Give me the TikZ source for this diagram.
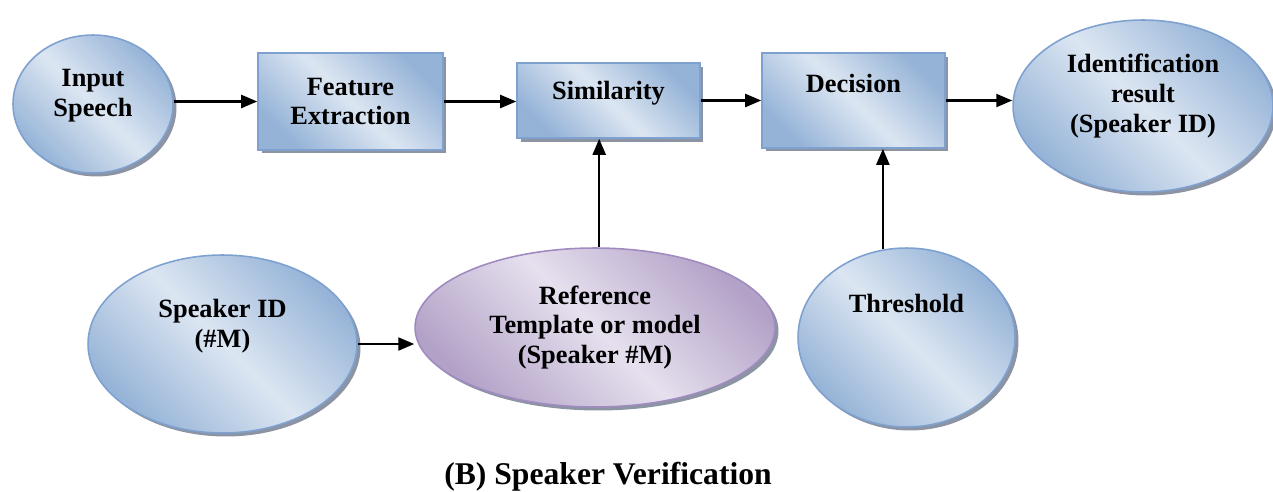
\documentclass[tikz,border=0pt]{standalone}
\usepackage{fontspec}
\setmainfont{Liberation Serif}
\usetikzlibrary{arrows.meta}
\usetikzlibrary{shapes.geometric}
\usetikzlibrary{shadows}

\definecolor{blueLight}{HTML}{DCE6F2}
\definecolor{blueDark}{HTML}{95B3D7}
\definecolor{blueEdge}{HTML}{7EA1D0}
\definecolor{lilacLight}{HTML}{E6E0EE}
\definecolor{lilacDark}{HTML}{B3A2C7}
\definecolor{lilacEdge}{HTML}{A08BC0}
\definecolor{shadowGray}{HTML}{8C94A3}

\tikzset{
  shadowed/.style={drop shadow={shadow xshift=0.07cm, shadow yshift=-0.07cm, fill=shadowGray, opacity=1}},
  bluefill/.style={draw=blueEdge, line width=0.9pt, top color=blueDark, bottom color=blueDark, middle color=blueLight, shading angle=-45},
  lilacfill/.style={draw=lilacEdge, line width=0.9pt, top color=lilacDark, bottom color=lilacDark, middle color=lilacLight, shading angle=-45},
  blob/.style={ellipse, inner sep=0pt, shadowed, bluefill},
  stage/.style={rectangle, inner sep=0pt, shadowed, bluefill},
  txt/.style={font=\fontsize{15}{17}\selectfont\bfseries, align=center, inner sep=0pt},
  flow/.style={line width=1.3pt, -{Triangle[length=0.32cm, width=0.26cm]}}
}

\begin{document}
\begin{tikzpicture}[x=0.02cm, y=-0.02cm]
\useasboundingbox (0,0) rectangle (1273,491);
% top row
\node[blob, minimum width=3.2cm, minimum height=2.76cm,
  label={[txt, yshift=0.16cm]center:Input\\Speech}] (inp) at (93,104) {};
\node[stage, minimum width=3.7cm, minimum height=1.94cm,
  label={[txt]center:Feature\\Extraction}] (fe) at (350.5,101.5) {};
\node[stage, minimum width=3.66cm, minimum height=1.5cm,
  label={[txt, yshift=0.14cm]center:Similarity}] (sim) at (608.5,100.5) {};
\node[stage, minimum width=3.66cm, minimum height=1.9cm,
  label={[txt, yshift=0.34cm]center:Decision}] (dec) at (853.5,100.5) {};
\node[blob, minimum width=5.2cm, minimum height=3.44cm,
  label={[txt, yshift=0.2cm]center:Identification\\result\\(Speaker ID)}] (idr) at (1143,106) {};
% bottom row
\node[blob, minimum width=5.38cm, minimum height=3.56cm,
  label={[txt, yshift=0.36cm]center:Speaker ID\\(\#M)}] (spk) at (222.5,344) {};
\node[ellipse, inner sep=0pt, shadowed, lilacfill, minimum width=7.2cm, minimum height=3.18cm,
  label={[txt]center:Reference\\Template or model\\(Speaker \#M)}] (ref) at (595,327.5) {};
\node[blob, minimum width=4.34cm, minimum height=3.58cm,
  label={[txt, yshift=0.68cm]center:Threshold}] (thr) at (906.5,337.5) {};

\draw[flow] (inp.east |- fe.west) -- (fe.west);
\draw[flow] (fe.east) -- (fe.east -| sim.west);
\draw[flow] (sim.east) -- (sim.east -| dec.west);
\draw[flow] (dec.east) -- (dec.east -| idr.west);
\draw[flow] (ref.87) -- (ref.87 |- sim.south);
\draw[flow] (thr.105) -- (thr.105 |- dec.south);
\draw[flow] (spk.east) -- (spk.east -| ref.west);

\node[font=\fontsize{18}{22}\selectfont\bfseries, anchor=base] (cap) at (608,484) {(B) Speaker Verification};
\end{tikzpicture}
\end{document}
